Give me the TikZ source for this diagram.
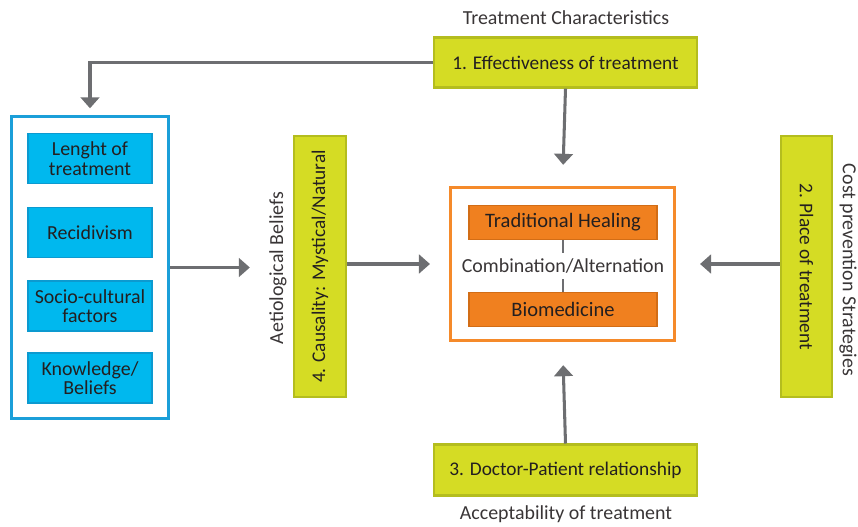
\documentclass[tikz,border=0pt]{standalone}
\usepackage{fontspec}
\setmainfont{Carlito}
\usetikzlibrary{arrows.meta}

\definecolor{limefill}{HTML}{D5DC24}
\definecolor{limeedge}{HTML}{B4BD1E}
\definecolor{cyanfill}{HTML}{00B8EE}
\definecolor{cyanedge}{HTML}{0C9AD0}
\definecolor{frameblue}{HTML}{1B9FD9}
\definecolor{orangefill}{HTML}{F0801F}
\definecolor{orangeedge}{HTML}{D26D16}
\definecolor{frameorange}{HTML}{F58A2A}
\definecolor{arrowgray}{HTML}{6D6E71}
\definecolor{inkdark}{HTML}{231F20}

\tikzset{
  factor/.style={draw=limeedge, fill=limefill, line width=2pt, text=inkdark,
    font=\fontsize{16.5}{18}\selectfont, inner sep=0pt},
  item/.style={draw=cyanedge, fill=cyanfill, line width=1.6pt, text=inkdark,
    font=\fontsize{17}{16.5}\selectfont, align=center, inner sep=0pt,
    minimum width=3.72cm, minimum height=1.5cm},
  choice/.style={draw=orangeedge, fill=orangefill, line width=1.4pt, text=inkdark,
    font=\fontsize{17.5}{18}\selectfont, inner sep=0pt,
    minimum width=5.64cm, minimum height=1.02cm},
  caption/.style={text=inkdark!90, font=\fontsize{17}{18}\selectfont, inner sep=0pt},
  flow/.style={draw=arrowgray, line width=2.6pt,
    -{Triangle[length=0.33cm, width=0.56cm]}},
  link/.style={draw=arrowgray, line width=2.2pt}
}

\begin{document}
\begin{tikzpicture}[x=0.03cm, y=-0.03cm]
  \useasboundingbox (0,0) rectangle (858,527);

  % outer frames
  \node[draw=frameblue, line width=2.6pt, fill=white, minimum width=4.71cm,
    minimum height=9.06cm] (group) at (90,267.5) {};
  \node[draw=frameorange, line width=2.6pt, fill=white, minimum width=6.72cm,
    minimum height=4.6cm] (practice) at (562.5,264) {};

  % the four factors
  \node[factor, minimum width=7.89cm, minimum height=1.5cm] (effect) at (565.5,62.5) {1. Effectiveness of treatment};
  \node[factor, minimum width=7.89cm, minimum height=1.52cm] (doctor) at (565.5,470) {3. Doctor-Patient relationship};
  \node[factor, rotate=90, minimum width=7.83cm, minimum height=1.56cm] (cause) at (320,266.5) {4. Causality: Mystical/Natural};
  \node[factor, rotate=-90, minimum width=7.83cm, minimum height=1.53cm] (place) at (806.5,266.5) {2. Place of treatment};

  % captions
  \node[caption] (capeffect) at (566,18) {Treatment Characteristics};
  \node[caption] (capdoctor) at (566,514) {Acceptability of treatment};
  \node[caption, rotate=90] (capcause) at (278,268) {Aetiological Beliefs};
  \node[caption, rotate=-90] (capplace) at (848,270) {Cost prevention Strategies};

  % items on the left
  \node[item] (length) at (90,158.5) {Lenght of\\treatment};
  \node[item] (relapse) at (90,232.5) {Recidivism};
  \node[item] (social) at (90,306) {Socio-cultural\\factors};
  \node[item] (belief) at (90,378) {Knowledge/\\Beliefs};

  % healing choices
  \node[choice] (traditional) at (563,222.5) {Traditional Healing};
  \node[choice] (biomed) at (563,309.5) {Biomedicine};
  \node[caption, minimum height=0.78cm] (combo) at (563,266) {Combination/Alternation};
  \draw[link] (traditional.south) -- (combo.north);
  \draw[link] (combo.south) -- (biomed.north);

  % arrows
  \draw[flow, shorten >=0.2cm] (effect.west) -| (group.north);
  \draw[flow, shorten >=0.63cm] (effect.south) -- (practice.north);
  \draw[flow, shorten >=1.29cm] (group.east) -- (group.east -| cause.north);
  \draw[flow, shorten >=0.57cm] (cause.south |- practice.west) -- (practice.west);
  \draw[flow, shorten >=0.72cm] (place.south |- practice.east) -- (practice.east);
  \draw[flow, shorten >=0.69cm] (doctor.north) -- (practice.south);
\end{tikzpicture}
\end{document}
